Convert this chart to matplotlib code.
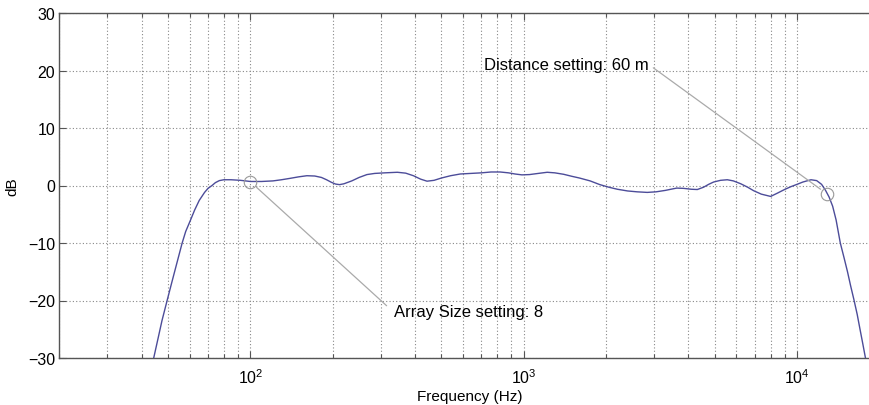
import numpy as np
import matplotlib
matplotlib.use("Agg")
import matplotlib.pyplot as plt
from matplotlib.ticker import LogLocator, NullFormatter

plt.rcParams['font.family'] = ['Liberation Sans', 'DejaVu Sans']
plt.rcParams['mathtext.fontset'] = 'custom'
plt.rcParams['mathtext.rm'] = 'Liberation Sans'

# Frequency response of the array (Hz, dB)
freq_hz = [44.3, 46, 47.5, 49.6, 51.5, 53.5, 56.3, 58, 60.3, 62.5, 65, 68, 70,
           72.4, 74.5, 77, 80, 85, 92, 100, 110, 121, 130, 140, 150, 161, 172,
           182, 190, 198, 205, 212, 220, 235, 250, 267, 285, 310, 345, 370,
           395, 420, 443, 470, 500, 540, 586, 640, 700, 760, 820, 880, 930,
           985, 1050, 1130, 1219, 1300, 1400, 1500, 1600, 1750, 1900, 2050,
           2200, 2400, 2600, 2832, 3050, 3300, 3500, 3630, 3850, 4100, 4318,
           4550, 4750, 4950, 5250, 5558, 5850, 6226, 6600, 6935, 7400, 8006,
           8500, 9000, 9500, 10000, 10500, 11250, 11800, 12300, 12700, 13100,
           13500, 13900, 14400, 14850, 15300, 15700, 16140, 16600, 17000,
           17400, 17800]
level_db = [-30, -26.5, -23.5, -20, -17, -14, -10, -8, -6.1, -4.3, -2.6, -1.2,
            -0.5, 0.0, 0.5, 0.85, 1.0, 1.0, 0.9, 0.7, 0.7, 0.8, 1.0, 1.25,
            1.5, 1.7, 1.65, 1.4, 1.0, 0.55, 0.25, 0.15, 0.3, 0.8, 1.4, 1.9,
            2.1, 2.2, 2.3, 2.15, 1.7, 1.1, 0.75, 0.9, 1.3, 1.7, 2.0, 2.1, 2.2,
            2.35, 2.35, 2.2, 2.0, 1.85, 1.9, 2.1, 2.3, 2.2, 1.95, 1.6, 1.3,
            0.8, 0.15, -0.3, -0.65, -0.95, -1.1, -1.2, -1.1, -0.85, -0.6,
            -0.45, -0.5, -0.65, -0.7, -0.3, 0.2, 0.6, 0.9, 1.0, 0.8, 0.3,
            -0.3, -0.9, -1.5, -1.9, -1.3, -0.7, -0.2, 0.2, 0.6, 1.0, 0.85,
            0.2, -0.8, -2.0, -3.6, -6, -10, -12.5, -15, -17.4, -19.8, -22.4,
            -25, -27.5, -30]

# Highlighted points and their labels
marker_freq = [100, 12900]
marker_db = [0.66, -1.5]
marker_text = ["Array Size setting: 8", "Distance setting: 60 m"]
text_freq = [334, 713]
text_db = [-22.0, 21.1]

y_ticks = [-30, -20, -10, 0, 10, 20, 30]

W, H = 869, 406
fig = plt.figure(figsize=(W / 100, H / 100), dpi=100)
ax = fig.add_axes([59.3 / W, (H - 359) / H, 820 / W, 345 / H])

ax.plot(freq_hz, level_db, color='#4c4c99', linewidth=1.0, zorder=3)
ax.plot(marker_freq, marker_db, linestyle='none', marker='o', markersize=9,
        markerfacecolor='none', markeredgecolor='#999999', markeredgewidth=0.8,
        zorder=4)

ax.set_xscale('log')
ax.set_xlim(20, 20000)
ax.set_ylim(-30, 30)
ax.set_yticks(y_ticks)
ax.xaxis.set_major_locator(LogLocator(base=10, numticks=10))
ax.xaxis.set_minor_locator(LogLocator(base=10, subs=np.arange(2, 10), numticks=20))
ax.xaxis.set_minor_formatter(NullFormatter())

ax.grid(True, which='major', axis='both', linestyle=(0, (1, 2)),
        color='#888888', linewidth=0.8)
ax.grid(True, which='minor', axis='x', linestyle=(0, (1, 2)),
        color='#888888', linewidth=0.8)

for s in ax.spines.values():
    s.set_color('#555555')
    s.set_linewidth(1.0)

ax.tick_params(axis='both', which='major', direction='in', length=5,
               width=0.8, color='#555555', labelsize=11.5, top=True, right=True)
ax.tick_params(axis='both', which='minor', direction='in', length=3,
               width=0.8, color='#555555', top=True, right=True)
ax.tick_params(axis='x', which='major', pad=7)
ax.tick_params(axis='y', which='major', pad=3)

ax.set_xlabel('Frequency (Hz)', fontsize=11, labelpad=2)
ax.set_ylabel('dB', fontsize=11, labelpad=6)

# Leader lines from the labels to the circled points
ax.annotate(marker_text[0], xy=(marker_freq[0], marker_db[0]),
            xytext=(text_freq[0], text_db[0]), ha='left', va='center',
            fontsize=12,
            arrowprops=dict(arrowstyle='-', color='#aaaaaa', lw=0.9,
                            relpos=(0, 0.5), shrinkA=4, shrinkB=6))
ax.annotate(marker_text[1], xy=(marker_freq[1], marker_db[1]),
            xytext=(text_freq[1], text_db[1]), ha='left', va='center',
            fontsize=12,
            arrowprops=dict(arrowstyle='-', color='#aaaaaa', lw=0.9,
                            relpos=(1, 0.5), shrinkA=2, shrinkB=6))

fig.savefig('out.png', dpi=100)
